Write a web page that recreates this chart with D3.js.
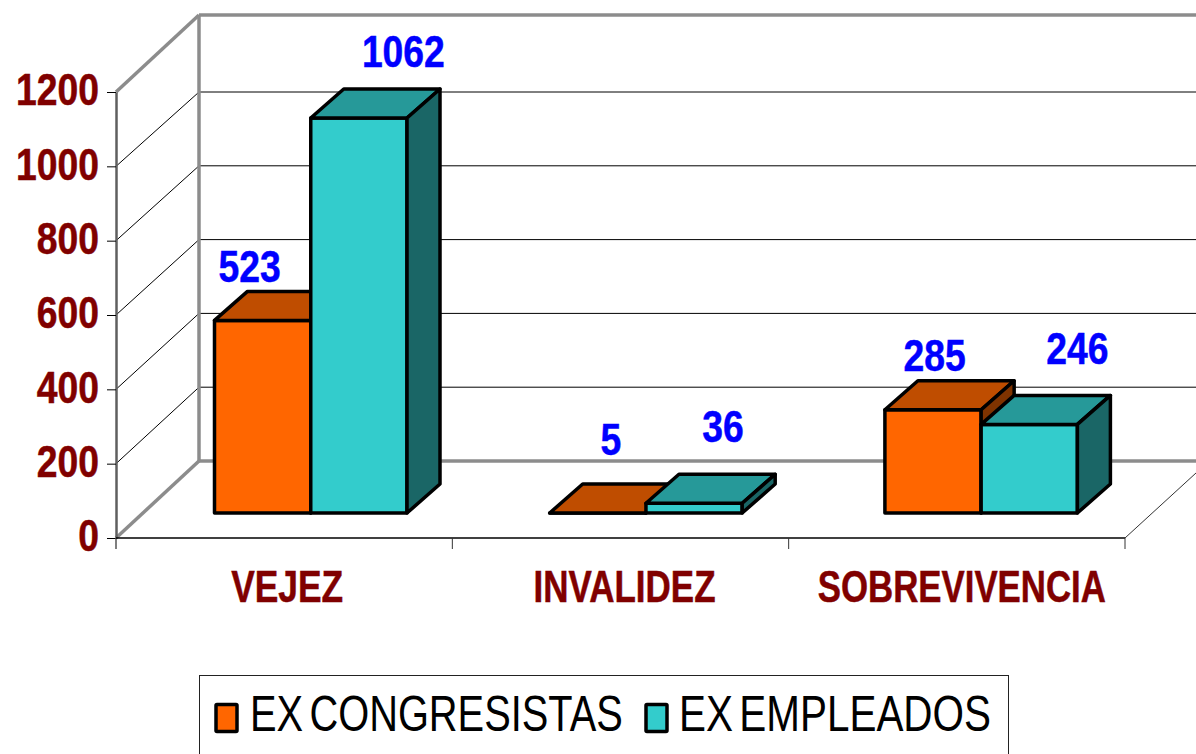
<!DOCTYPE html>
<html>
<head>
<meta charset="utf-8">
<script src="https://cdn.jsdelivr.net/npm/d3@7"></script>
<style>
html,body{margin:0;padding:0;background:#fff;}
svg{display:block;}
text{font-family:"Liberation Sans",Arial,sans-serif;}
</style>
</head>
<body>
<svg id="chart" width="1196" height="754"></svg>
<script>
const categories = ["VEJEZ", "INVALIDEZ", "SOBREVIVENCIA"];
const seriesNames = ["EX CONGRESISTAS", "EX EMPLEADOS"];
const exCongresistas = [523, 5, 285];
const exEmpleados = [1062, 36, 246];
const yTicks = [0, 200, 400, 600, 800, 1000, 1200];

const palette = [
  {front:"#FF6600", top:"#BF4D00", side:"#7F3300"},
  {front:"#33CCCC", top:"#269999", side:"#1A6666"}
];
const seriesValues = [exCongresistas, exEmpleados];

const svg = d3.select("#chart");
const W = 1196;

// Scales
const xCat = d3.scaleBand().domain(categories).range([116, 1125]);
const xBars = d3.scaleBand().domain(categories).range([214.5, 214.5 + 335.2 * 3]);
const xInner = d3.scaleBand().domain(d3.range(2)).range([0, 192.5]);
const yFront = d3.scaleLinear().domain([0, 1200]).range([538, 92]);
const yBack = d3.scaleLinear().domain([0, 1000]).range([461, 92]);
const yBar = d3.scaleLinear().domain([0, 1200]).range([516.8, 66.2]);

const floorDx = 83, floorDy = -76;
const barDx = 33, barDy = -29;
const barBase = 513;
const backTop = 15;
const digitWidth = 20.75;

const line = (x1,y1,x2,y2,stroke,w) => svg.append("line")
  .attr("x1",x1).attr("y1",y1).attr("x2",x2).attr("y2",y2)
  .attr("stroke",stroke).attr("stroke-width",w);

// Gridlines on the back wall and side wall
yTicks.slice(1, 6).forEach(t => {
  line(199, yBack(t), W, yBack(t), "#000", 1);
  line(116, yFront(t), 199, yBack(t), "#000", 1);
});

// Wall frame
const gray = "#8C8C8C";
line(199, backTop, W, backTop, gray, 3.5);
line(199, backTop, 199, yBack(0), gray, 3.5);
line(199, yBack(0), W, yBack(0), gray, 3.5);
line(116, yFront(1200), 199, backTop, gray, 3.5);
line(116, yFront(0), 199, yBack(0), gray, 3.5);
line(1125, yFront(0), W, yFront(0) + floorDy * (W - 1125) / floorDx, "#333", 1);

// Y axis
const yAxis = svg.append("g").attr("transform", "translate(116,0)")
  .call(d3.axisLeft(yFront).tickValues(yTicks).tickSize(9).tickSizeOuter(0).tickFormat(d3.format("d")));
yAxis.select(".domain").attr("stroke", "#5f5f5f").attr("stroke-width", 2.5);
yAxis.selectAll(".tick line").attr("stroke", "#000").attr("stroke-width", 1);
yAxis.selectAll(".tick text")
  .attr("x", -17)
  .attr("y", -3)
  .attr("dy", "0.36em")
  .attr("fill", "#800000")
  .attr("stroke", "#800000")
  .attr("stroke-width", 0.5)
  .attr("font-size", 44)
  .attr("font-weight", "bold")
  .attr("font-family", '"Liberation Sans",Arial,sans-serif')
  .attr("textLength", d => String(d).length * digitWidth)
  .attr("lengthAdjust", "spacingAndGlyphs");
line(116, 538, 116, 549, "#555", 1.5);

// X axis
const xAxis = svg.append("g").attr("transform", "translate(0,538)")
  .call(d3.axisBottom(xCat).tickSize(0));
xAxis.select(".domain").remove();
line(116, 538, 1125, 538, "#000", 1.5);
categories.forEach(c => line(xCat(c) + xCat.bandwidth(), 538, xCat(c) + xCat.bandwidth(), 549, "#333", 1));
const catWidths = [112, 182, 288], catNudge = [3, 4, 5];
xAxis.selectAll(".tick text")
  .attr("x", (d, i) => catNudge[i])
  .attr("y", 64)
  .attr("dy", 0)
  .attr("fill", "#800000")
  .attr("stroke", "#800000")
  .attr("stroke-width", 0.5)
  .attr("font-size", 44)
  .attr("font-weight", "bold")
  .attr("font-family", '"Liberation Sans",Arial,sans-serif')
  .attr("textLength", (d, i) => catWidths[i])
  .attr("lengthAdjust", "spacingAndGlyphs");

// 3D bars
const barG = svg.append("g")
  .attr("stroke", "#000").attr("stroke-width", 3.5).attr("stroke-linejoin", "round");
categories.forEach((cat, ci) => {
  seriesValues.forEach((vals, si) => {
    const c = palette[si];
    const x0 = xBars(cat) + xInner(si);
    const x1 = x0 + xInner.bandwidth();
    const yB = barBase, yT = Math.min(yBar(vals[ci]), barBase);
    const poly = (pts, fill) => barG.append("polygon")
      .attr("points", pts.map(p => p.join(",")).join(" ")).attr("fill", fill);
    poly([[x0,yB],[x1,yB],[x1,yT],[x0,yT]], c.front);
    poly([[x0,yT],[x1,yT],[x1+barDx,yT+barDy],[x0+barDx,yT+barDy]], c.top);
    poly([[x1,yB],[x1+barDx,yB+barDy],[x1+barDx,yT+barDy],[x1,yT]], c.side);
  });
});

// Data labels
const labelNudge = [[[-13,-54],[44.5,-67]], [[13,-74],[29,-77]], [[1.5,-54.5],[48,-76]]];
categories.forEach((cat, ci) => {
  seriesValues.forEach((vals, si) => {
    const v = vals[ci];
    const cx = xBars(cat) + xInner(si) + xInner.bandwidth() / 2;
    svg.append("text")
      .attr("x", cx + labelNudge[ci][si][0])
      .attr("y", Math.min(yBar(v), barBase) + labelNudge[ci][si][1])
      .attr("dy", "0.36em")
      .attr("text-anchor", "middle")
      .attr("fill", "#0000FF")
      .attr("stroke", "#0000FF")
      .attr("stroke-width", 0.5)
      .attr("font-size", 44)
      .attr("font-weight", "bold")
      .attr("textLength", String(v).length * digitWidth)
      .attr("lengthAdjust", "spacingAndGlyphs")
      .text(v);
  });
});

// Legend
svg.append("rect").attr("x", 199.5).attr("y", 675.5).attr("width", 809).attr("height", 100)
  .attr("fill", "#fff").attr("stroke", "#222").attr("stroke-width", 1);
const legendX = [216, 646], legendTextX = [250, 679], legendLen = [373, 312];
seriesNames.forEach((name, i) => {
  svg.append("rect").attr("x", legendX[i]).attr("y", 704.5).attr("width", 21).attr("height", 27)
    .attr("fill", palette[i].front).attr("stroke", "#000").attr("stroke-width", 3.5).attr("rx", 1);
  const t = svg.append("text")
    .attr("font-size", 50)
    .attr("fill", "#000")
    .attr("word-spacing", -6)
    .text(name);
  const sx = legendLen[i] / t.node().getComputedTextLength();
  t.attr("transform", `translate(${legendTextX[i]},731) scale(${sx},1)`);
});
</script>
</body>
</html>
